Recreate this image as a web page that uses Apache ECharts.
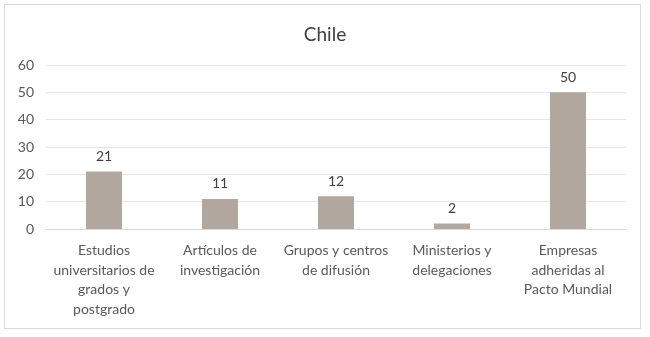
<!DOCTYPE html>
<html><head><meta charset="utf-8">
<script src="https://cdn.jsdelivr.net/npm/echarts@6/dist/echarts.min.js"></script>
<style>html,body{margin:0;padding:0;background:#fff}
#frame{position:absolute;left:4px;top:4px;width:637px;height:325px;border:1px solid #d9d9d9;box-sizing:border-box}
#c{position:absolute;left:0;top:0;width:650px;height:337px}</style>
</head><body><div id="frame"></div><div id="c"></div>
<script>
const categories = ["Estudios\nuniversitarios de\ngrados y\npostgrado","Artículos de\ninvestigación","Grupos y centros\nde difusión","Ministerios y\ndelegaciones","Empresas\nadheridas al\nPacto Mundial"];
const values = [21, 11, 12, 2, 50];
const yTicks = [0, 10, 20, 30, 40, 50, 60];
const FONT = "Lato";
const chart = echarts.init(document.getElementById('c'));
chart.setOption({
  animation:false,
  title:{text:"Chile",left:'center',top:20,textStyle:{fontFamily:FONT,fontSize:19,fontWeight:'normal',color:'#404040'}},
  grid:{left:46,right:24,top:65,bottom:108},
  xAxis:{type:'category',data:categories,
    axisLine:{lineStyle:{color:'#d9d9d9'}},axisTick:{show:false},
    axisLabel:{interval:0,fontFamily:FONT,fontSize:14,color:'#595959',lineHeight:19.5,margin:12}},
  yAxis:{type:'value',min:yTicks[0],max:yTicks[yTicks.length-1],interval:10,
    axisLine:{show:false},axisTick:{show:false},
    splitLine:{lineStyle:{color:'#e6e6e6'}},
    axisLabel:{fontFamily:FONT,fontSize:14,color:'#595959',margin:12}},
  series:[{type:'bar',data:values,barWidth:'31%',
    itemStyle:{color:'#b1a79f'},
    label:{show:true,position:'top',distance:8,fontFamily:FONT,fontSize:14,color:'#404040'}}]
});
</script></body></html>
